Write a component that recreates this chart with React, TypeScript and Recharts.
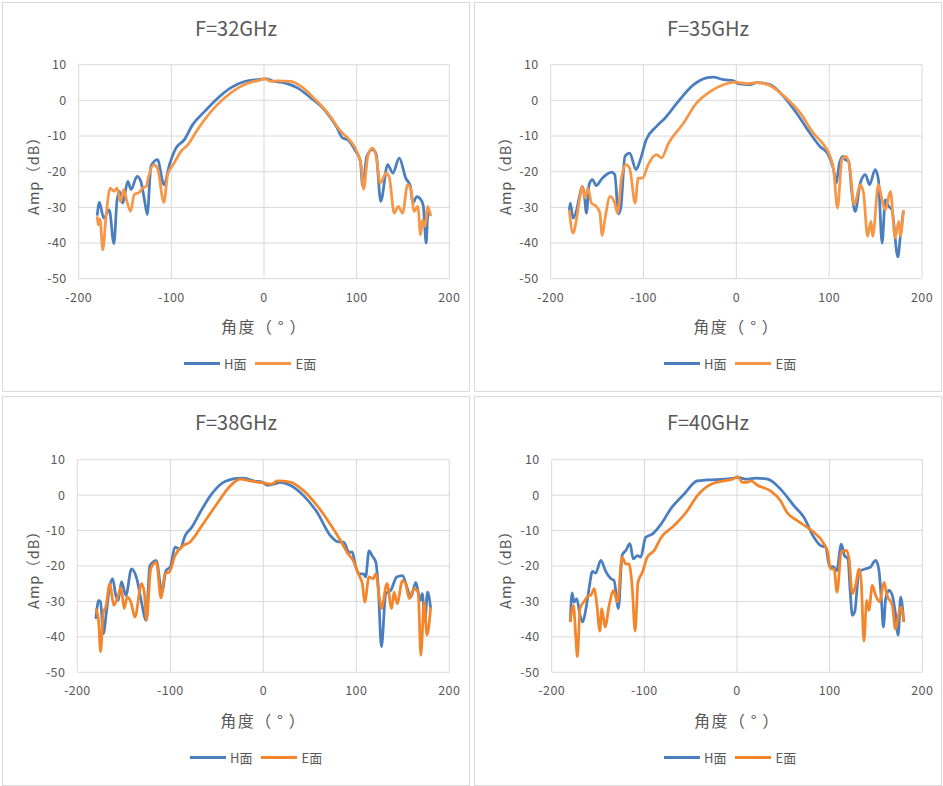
import { CartesianGrid, Legend, Line, LineChart, XAxis, YAxis } from "recharts";

// angle (deg), amplitude (dB) pairs
const H32: [number, number][] = [
  [-180, -32.3], [-177.7, -28.6], [-173, -33], [-167, -30.7], [-162, -40.2], [-158.6, -27.9], [-156, -25.5],
  [-152.5, -28.8], [-147, -22.7], [-143.5, -25], [-137, -21.3], [-133, -22.7], [-129, -27.9], [-126, -32],
  [-122, -18.5], [-115, -16.6], [-108, -23.6], [-102, -18], [-95, -13.4], [-86, -11], [-77, -6.8], [-64, -3.1],
  [-50, 0.6], [-36, 3.5], [-21, 5.3], [-7, 5.8], [2, 6], [11, 5.3], [22, 4.9], [36, 3.5], [51, 0.6], [65, -2.6],
  [78, -7.3], [85, -10.6], [90, -11], [99, -14.3], [104, -17], [106.5, -24], [111, -15.7], [117, -13.8],
  [121, -15], [126, -28.3], [133.5, -18], [139, -20.4], [146, -16.2], [153, -21.8], [158, -24], [160.5, -28.8],
  [165, -27], [169.5, -27.9], [172, -29.7], [175, -40], [177, -31.6], [180, -32],
];
const E32: [number, number][] = [
  [-180, -32.5], [-179, -34.9], [-177, -33.3], [-174, -41.9], [-170.5, -32.5], [-166, -24.6], [-162, -25.5],
  [-158.6, -24.6], [-155, -28.3], [-151.4, -25], [-148, -28.3], [-144, -31.1], [-140, -26.4], [-134.5, -25.8],
  [-131, -24.6], [-127, -24.1], [-125, -21.8], [-119, -18], [-115, -19], [-108, -28.6], [-104, -20.8],
  [-97, -17.6], [-89.6, -14.3], [-82, -12.4], [-73, -8.7], [-57, -3.1], [-43, 0.6], [-28, 3.5], [-14, 5.1],
  [-5, 5.6], [1, 6.1], [7.5, 5.3], [15, 5.5], [29, 5.3], [40, 3.9], [54, 0.6], [69, -3.6], [83, -8.7],
  [92, -11], [101, -14.8], [105, -18.5], [107.6, -24.9], [112, -15.7], [117, -13.4], [121, -15.7],
  [125.5, -23.2], [131.7, -20.4], [135, -21.3], [140.6, -31.6], [145, -29.7], [149.6, -31.6], [155, -23.6],
  [158.6, -25], [162, -31.1], [166, -29.7], [169, -37.7], [171, -33.5], [174, -35.3], [176.6, -29.7], [180, -32.5],
];

const H35: [number, number][] = [
  [-180, -30.7], [-178.8, -28.8], [-176, -33], [-172, -30.7], [-169, -26.9], [-166, -24.1], [-164, -26],
  [-161.5, -31.6], [-158.6, -23.6], [-155, -22.2], [-151, -23.9], [-145, -22], [-140, -20.8], [-134.5, -20.1],
  [-131, -20.8], [-127, -31.8], [-124.5, -30.2], [-120, -15.7], [-115, -14.8], [-108, -19.4], [-104, -17.1],
  [-97, -11], [-86, -7.3], [-77, -5], [-64, -0.8], [-46, 4.4], [-32, 6.3], [-25, 6.5], [-14, 5.8], [-3, 5.5],
  [2, 4.7], [15, 4.4], [22, 5], [36, 4.4], [51, 1.1], [65, -3.6], [78, -8.7], [90, -12.9], [99, -15.2],
  [104.7, -19.4], [107.6, -23.2], [111, -17.6], [115, -15.7], [117, -16.6], [121, -17.1], [124.5, -26],
  [128, -31.1], [133.5, -23.2], [139, -20.8], [143.5, -23.6], [149.6, -19.4], [153, -22.2], [157, -40],
  [160.5, -27.9], [164, -29.7], [167.6, -30.7], [174, -43.9], [177, -37.2], [180, -30.8],
];
const E35: [number, number][] = [
  [-180, -30.7], [-176, -37.2], [-172, -33], [-169, -27.9], [-166.2, -24.1], [-163, -27.4], [-160, -24.6],
  [-156, -28.8], [-151, -29.7], [-147, -31.6], [-144.6, -37.9], [-141.7, -33.5], [-136, -26.9], [-131, -28.8],
  [-128, -31.6], [-124, -22.2], [-119, -18], [-115, -19], [-109, -28.8], [-105.8, -21.8], [-101, -21.8],
  [-95, -18], [-86, -15.2], [-80.6, -16.1], [-73, -12], [-57, -6.4], [-43, -0.8], [-28, 2.5], [-14, 4.4],
  [-1.4, 5.1], [11, 4.7], [22, 5], [36, 4.2], [54, 0.6], [69, -3.6], [83, -9.2], [94, -12.4], [101, -15.7],
  [104.7, -19.4], [109, -30.2], [113.7, -16.6], [118, -15.7], [122, -18.5], [127, -29.3], [133.5, -23.6],
  [137, -26], [141.4, -38.1], [145, -33.9], [147, -38.1], [153, -23.6], [157, -27.9], [160.5, -30.7],
  [166, -25.5], [171, -38.6], [175, -33.9], [176.6, -38.1], [180, -30.8],
];

const H38: [number, number][] = [
  [-180, -34.9], [-177, -29.7], [-175, -30.2], [-172, -39.1], [-168.7, -33], [-165, -25.5], [-162, -23.6],
  [-158.6, -28.3], [-156, -29.7], [-152.5, -24.4], [-147.8, -28.3], [-141.7, -20.8], [-136, -23.6],
  [-131, -30.2], [-126, -35.3], [-122, -19.9], [-115, -18.5], [-109, -27.4], [-104.7, -21.3], [-100, -20.3],
  [-95, -14.7], [-89.6, -15.2], [-84, -11.4], [-77, -9.1], [-68, -4.9], [-57, -0.2], [-43, 3.6], [-28, 4.7],
  [-21, 4.8], [-10.4, 4], [-1.4, 3.7], [4, 2.8], [11, 3.1], [18, 3.6], [29, 2.8], [43.5, -0.2], [58, -4.9],
  [72, -11.4], [79.5, -13.1], [86.7, -13.3], [92, -16.1], [95.7, -16.1], [99, -19.9], [103, -22.2],
  [107.6, -22.2], [110, -23.1], [113.7, -15.7], [117, -17.1], [121, -18.9], [123.7, -26.4], [127, -42.8],
  [131.7, -27.8], [137, -26.9], [143.5, -23.1], [149.6, -22.7], [155, -26.4], [158.6, -28.8], [164, -24.6],
  [168.7, -29.7], [171, -27.8], [173.7, -35.8], [176.6, -27.4], [180, -32],
];
const E38: [number, number][] = [
  [-180, -32], [-177, -35.8], [-175, -44.2], [-172, -33], [-169.4, -31.6], [-165, -25], [-160.8, -31.1],
  [-157, -29.2], [-153, -26], [-149.6, -32], [-146.4, -28.8], [-142.4, -30.2], [-138, -34.4], [-131, -25],
  [-128, -27.4], [-125.5, -35.3], [-121, -20.8], [-115, -18.9], [-110, -29], [-105.8, -22.2], [-101, -21.7],
  [-95, -17.1], [-86, -14.2], [-79, -13.3], [-66, -8.6], [-50, -2.5], [-35.6, 2.6], [-24.8, 4.5], [-14, 4],
  [-5, 3.6], [2, 3.4], [9, 3.1], [15, 4], [29, 3.7], [43.5, 1.2], [58, -3], [72, -8.2], [83, -12.8],
  [90, -16.1], [97.5, -18.9], [103, -22.7], [106.5, -25], [109, -30.2], [113.7, -23.1], [118, -23.6],
  [121, -22.2], [124.5, -28.3], [127, -32], [133, -25], [138, -32], [140.6, -27.4], [144, -30.6],
  [149.6, -24.1], [153, -25], [157, -29.2], [162, -26.4], [166.5, -27.4], [169.4, -45.2], [173, -30.2],
  [176, -39.5], [180, -31.6],
];

const H40: [number, number][] = [
  [-180, -35.8], [-178, -27.6], [-175.9, -30.2], [-173, -29.2], [-169.4, -33.9], [-166.5, -35.8], [-163, -32],
  [-159.7, -26.4], [-156, -21.5], [-152.5, -22], [-147, -18.4], [-141.7, -21.5], [-136, -23.6],
  [-132.7, -24.1], [-128, -32], [-124, -17], [-120, -15.6], [-115.5, -13.7], [-112, -18], [-107.6, -17.1],
  [-104, -17.5], [-98.6, -11.9], [-91.4, -11], [-82, -8.2], [-71.6, -3.9], [-57, 0.3], [-43, 4], [-32, 4.3],
  [-14, 4.5], [-5, 4.7], [0.4, 5], [11, 4.5], [20, 4.8], [33, 4.5], [47, 1.7], [61.5, -3], [72, -6.2],
  [83, -11.9], [90, -14.2], [95.7, -14.7], [100, -20.2], [104, -20.2], [107.6, -21.3], [112.6, -13.8],
  [116, -17.1], [119.8, -18], [122, -26.4], [124.5, -33.9], [127, -33], [131.7, -21.6], [139, -20.8],
  [144, -20.3], [149.6, -18.4], [153, -20.8], [156, -30.1], [158, -37.2], [160.5, -29.2], [164, -26.9],
  [167.6, -28.3], [171, -33.4], [174, -39.5], [176.6, -28.8], [180, -35.8],
];
const E40: [number, number][] = [
  [-180, -35.8], [-176.6, -31.1], [-174, -40], [-172.3, -45.6], [-169.4, -32], [-164, -29.7], [-160, -28.3],
  [-158, -28.3], [-154, -26.4], [-151.4, -30.6], [-148, -38.4], [-146, -32], [-142.4, -37.2], [-138, -31.1],
  [-133.5, -26.9], [-129, -30.2], [-124, -17.5], [-120, -19.4], [-116.5, -19.4], [-113, -26.4], [-110, -38.4],
  [-106.8, -24.6], [-102, -21.7], [-96.8, -17.5], [-89.6, -15.7], [-82, -12], [-68, -8.6], [-53.6, -4.4],
  [-43, -0.2], [-28, 3.1], [-14, 4], [-5, 4.5], [1, 5.2], [5.8, 3.6], [11, 3.6], [15, 4], [22, 2.8],
  [36, 1.2], [47, -1.6], [54, -4.9], [65, -7.2], [76, -9.1], [83, -10.5], [94, -13.8], [98, -16.1],
  [101, -20.8], [104.7, -20.8], [108, -27.4], [112.6, -16.1], [118, -15.6], [121, -18], [124.5, -27.8],
  [128, -25.5], [131.7, -20.8], [134, -24.1], [137, -41.2], [140, -29.7], [142.4, -32.5], [146, -25.5],
  [149.6, -28.3], [154, -30.1], [158.6, -24.6], [162, -28.3], [167.6, -31.1], [171, -37.8], [175, -33],
  [177, -31.6], [180, -35.8],
];

const X_TICKS = [-200, -100, 0, 100, 200];
const Y_TICKS = [-50, -40, -30, -20, -10, 0, 10];
const TITLES = ["F=32GHz", "F=35GHz", "F=38GHz", "F=40GHz"];
const SERIES_NAMES = ["H面", "E面"];

const TEXT = "#595959";
const GRID = "#d9d9d9";
const BLUE = "#4a7ebf";
const FONT = '"Noto Sans CJK SC", "Noto Sans", sans-serif';

const CW = 466;
const CH = 388;

const panels = [
  { title: TITLES[0], h: H32, e: E32, x: 2, y: 2, pl: 75.7, pr: 446.3, pt: 61.7, pb: 275.7, lx: 181, orange: "#f79646" },
  { title: TITLES[1], h: H35, e: E35, x: 474, y: 2, pl: 75.7, pr: 447, pt: 61.7, pb: 275.7, lx: 189, orange: "#f79646" },
  { title: TITLES[2], h: H38, e: E38, x: 2, y: 396, pl: 74.3, pr: 446.3, pt: 62.7, pb: 275.3, lx: 187, orange: "#f5852a" },
  { title: TITLES[3], h: H40, e: E40, x: 474, y: 396, pl: 76.7, pr: 447.3, pt: 62.7, pb: 275.3, lx: 189, orange: "#f5852a" },
];

const toRows = (pts: [number, number][]) => pts.map(([a, v]) => ({ a, v }));

function LegendBox({ payload }: { payload?: Array<{ value: string; color: string }> }) {
  const items = [...(payload || [])].sort(
    (a, b) => SERIES_NAMES.indexOf(a.value) - SERIES_NAMES.indexOf(b.value)
  );
  return (
    <div style={{ display: "flex", alignItems: "center", fontSize: 13, color: TEXT, whiteSpace: "nowrap" }}>
      {items.map((p) => (
        <div key={p.value} style={{ display: "flex", alignItems: "center", marginRight: 9 }}>
          <div style={{ width: 36, height: 3, background: p.color, marginRight: 4 }} />
          <span>{p.value}</span>
        </div>
      ))}
    </div>
  );
}

function Panel({ p }: { p: (typeof panels)[number] }) {
  const yAxisW = 40;
  const xAxisH = 30;
  const margin = { top: p.pt, right: CW - p.pr, left: p.pl - yAxisW, bottom: CH - p.pb - xAxisH };
  const midY = (p.pt + p.pb) / 2;
  const midX = (p.pl + p.pr) / 2;
  const tickStyle = { fill: TEXT, fontSize: 12.5, letterSpacing: 0.4 };
  return (
    <div
      style={{
        position: "absolute",
        left: p.x,
        top: p.y,
        width: CW + 2,
        height: CH + 2,
        boxSizing: "border-box",
        border: `1px solid ${GRID}`,
        background: "#fff",
      }}
    >
      <div
        style={{
          position: "absolute",
          left: 0,
          top: 8,
          width: CW,
          textAlign: "center",
          fontSize: 20,
          lineHeight: "34px",
          color: TEXT,
        }}
      >
        {p.title}
      </div>
      <div
        style={{
          position: "absolute",
          left: 30 - 60,
          top: midY - 10,
          width: 120,
          height: 20,
          lineHeight: "20px",
          textAlign: "center",
          fontSize: 14.5,
          letterSpacing: 1,
          color: TEXT,
          transform: "rotate(-90deg)",
          whiteSpace: "nowrap",
        }}
      >
        Amp（dB）
      </div>
      <div
        style={{
          position: "absolute",
          left: midX - 70,
          top: 323 - 11,
          width: 140,
          height: 22,
          lineHeight: "22px",
          textAlign: "center",
          fontSize: 16,
          letterSpacing: 1.5,
          color: TEXT,
          whiteSpace: "nowrap",
        }}
      >
        角度（<span style={{ display: "inline-block", width: "1em", textAlign: "center" }}>°</span>）
      </div>
      <div style={{ position: "absolute", left: 0, top: 0 }}>
        <LineChart width={CW} height={CH} margin={margin}>
          <CartesianGrid stroke={GRID} strokeWidth={1} />
          <XAxis
            type="number"
            dataKey="a"
            domain={[-200, 200]}
            ticks={X_TICKS}
            allowDataOverflow
            axisLine={false}
            tickLine={false}
            tickSize={6}
            tickMargin={8}
            height={xAxisH}
            tick={tickStyle}
          />
          <YAxis
            type="number"
            domain={[-50, 10]}
            ticks={Y_TICKS}
            allowDataOverflow
            axisLine={false}
            tickLine={false}
            tickSize={6}
            tickMargin={6}
            width={yAxisW}
            tick={tickStyle}
          />
          <Legend
            verticalAlign="middle"
            align="center"
            layout="horizontal"
            wrapperStyle={{ left: p.lx, top: 351, width: "auto" }}
            content={(props: any) => <LegendBox payload={props.payload} />}
          />
          <Line
            data={toRows(p.h)}
            dataKey="v"
            name={SERIES_NAMES[0]}
            type="monotone"
            stroke={BLUE}
            strokeWidth={2.75}
            dot={false}
            activeDot={false}
            isAnimationActive={false}
          />
          <Line
            data={toRows(p.e)}
            dataKey="v"
            name={SERIES_NAMES[1]}
            type="monotone"
            stroke={p.orange}
            strokeWidth={2.75}
            dot={false}
            activeDot={false}
            isAnimationActive={false}
          />
        </LineChart>
      </div>
    </div>
  );
}

export default function App() {
  return (
    <div
      style={{
        position: "absolute",
        left: 0,
        top: 0,
        width: 943,
        height: 786,
        background: "#fff",
        fontFamily: FONT,
      }}
    >
      {panels.map((p) => (
        <Panel key={p.title} p={p} />
      ))}
    </div>
  );
}
